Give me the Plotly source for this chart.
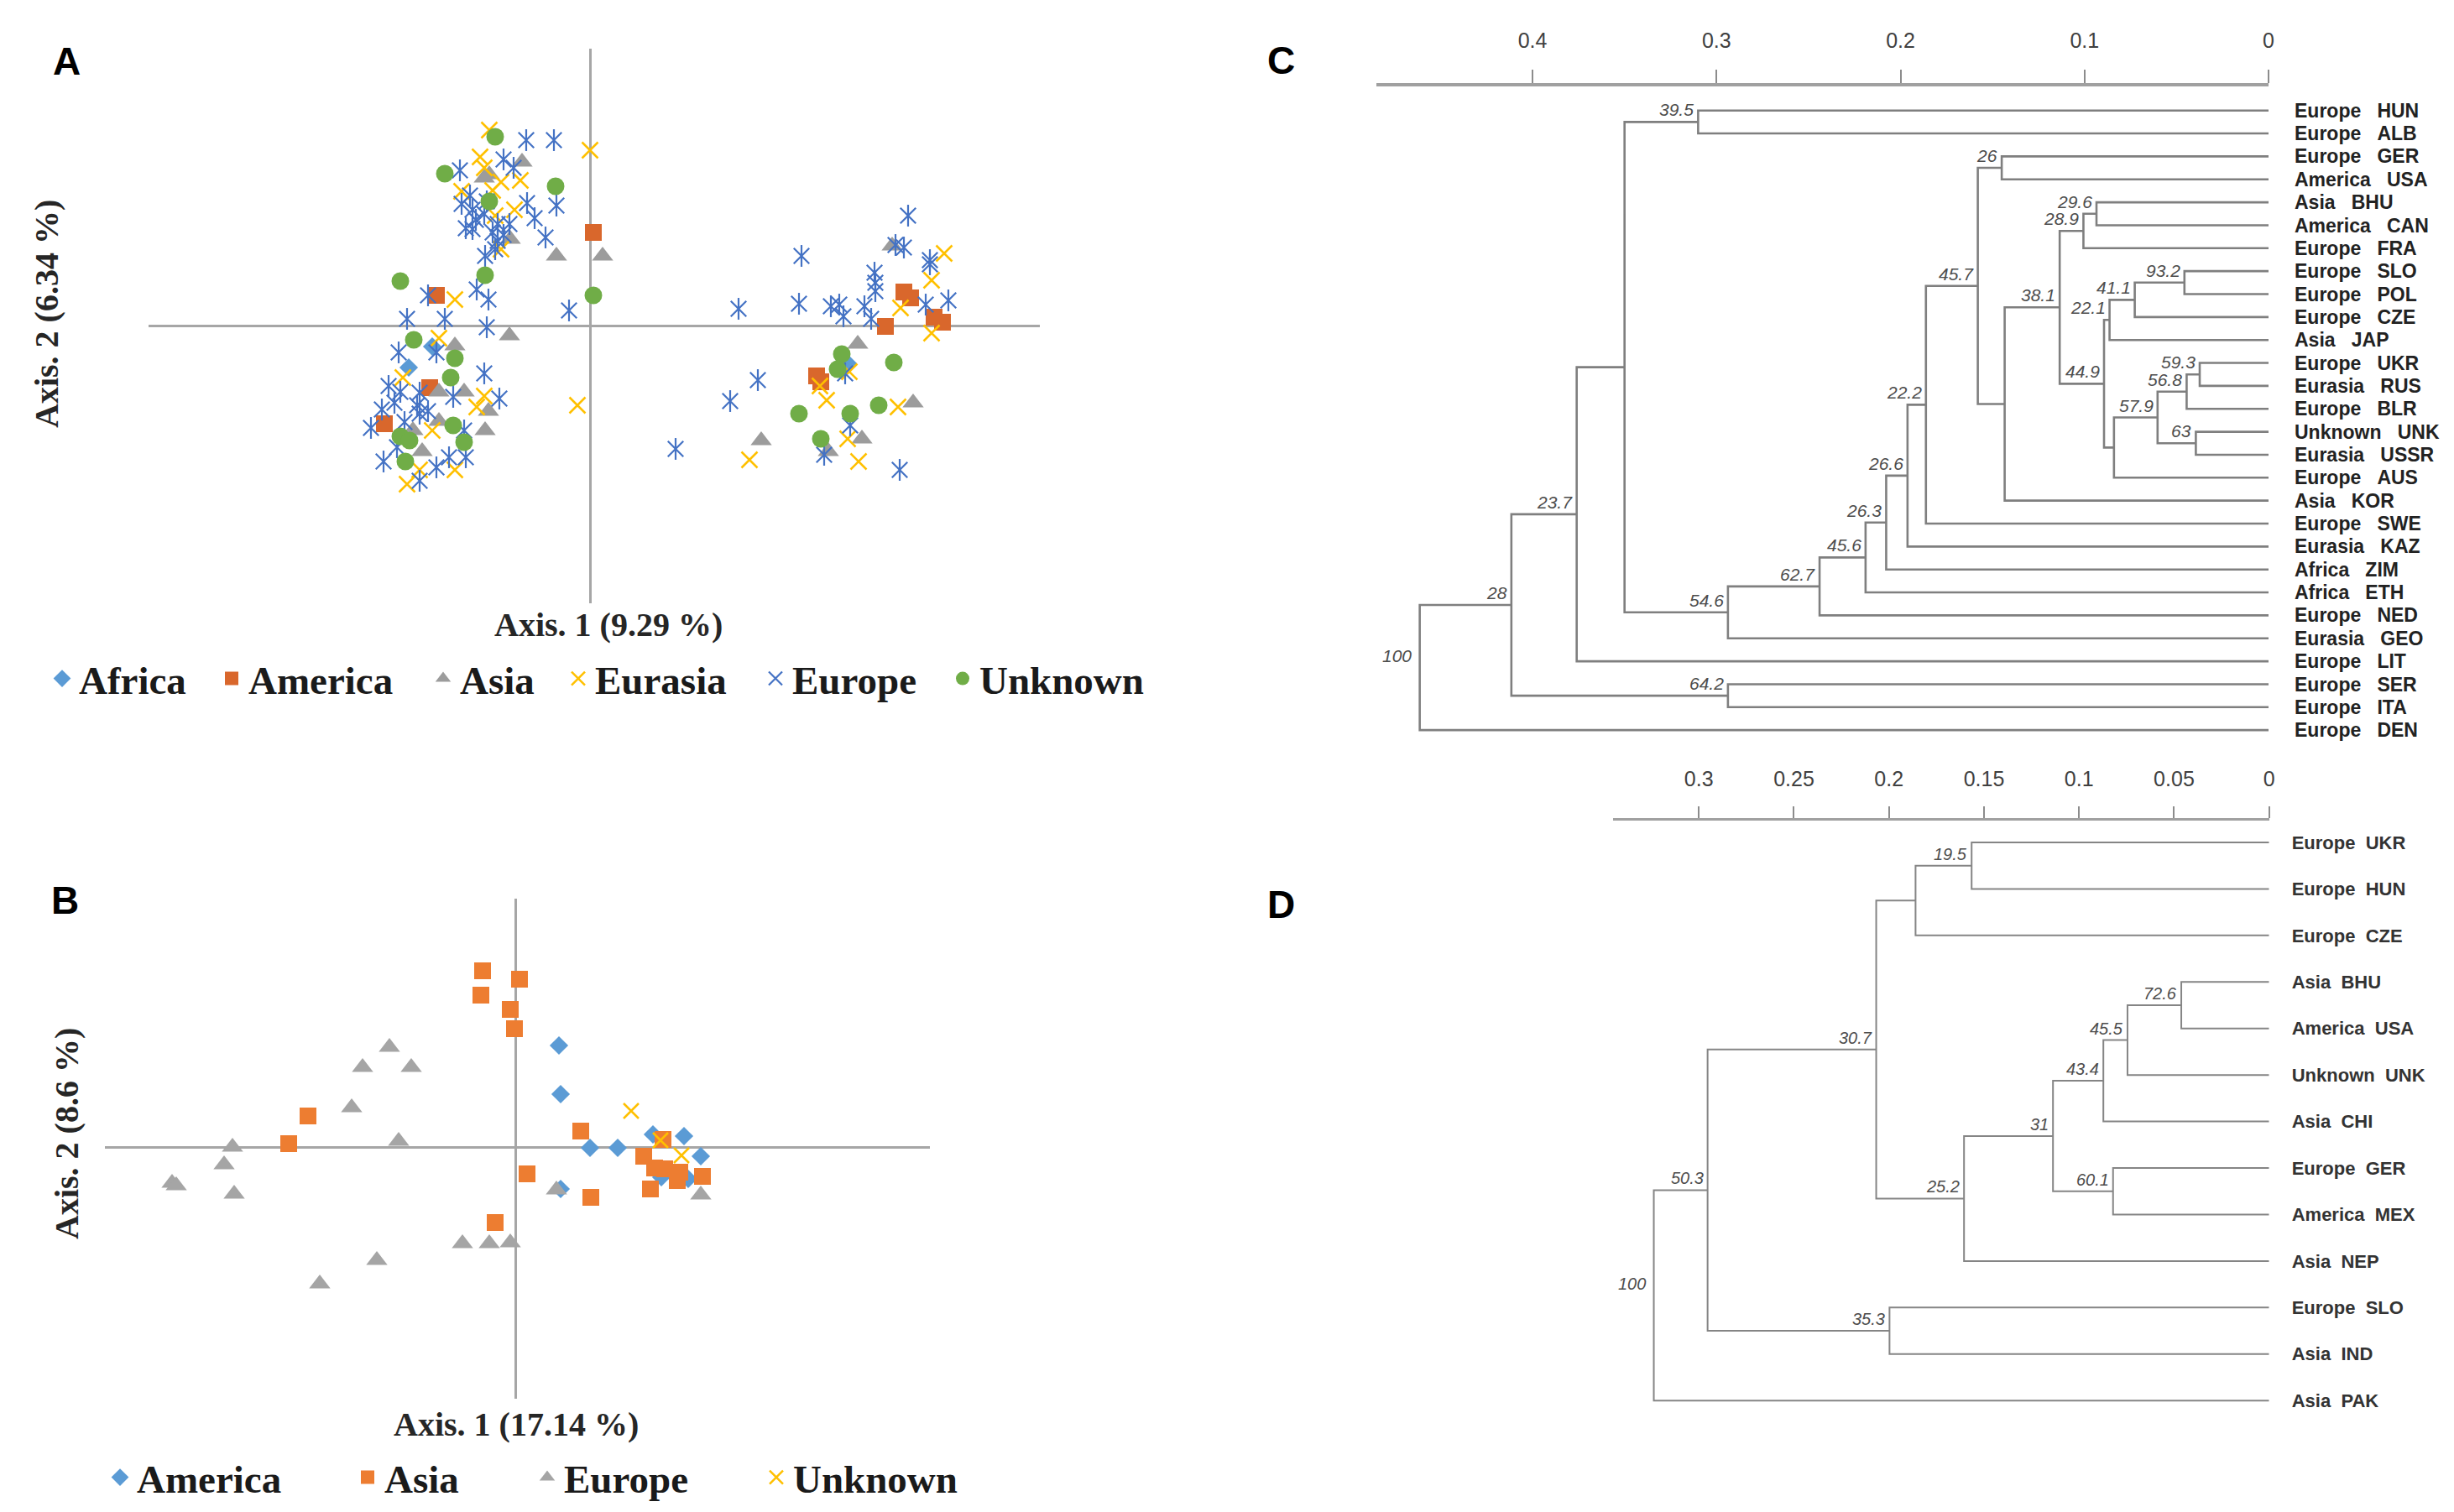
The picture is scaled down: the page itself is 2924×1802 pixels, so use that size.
import plotly.graph_objects as go

# ---------------- Panel A (PCoA, all accessions) ----------------
A_africa_x = [-0.188, -0.216, 0.307]
A_africa_y = [-0.025, -0.050, -0.045]

A_america_x = [0.004, -0.183, -0.191, -0.245, 0.374, 0.382, 0.352, 0.410, 0.420, 0.270, 0.275]
A_america_y = [0.111, 0.036, -0.074, -0.117, 0.040, 0.033, -0.001, 0.010, 0.004, -0.060, -0.067]

A_asia_x = [-0.081, -0.126, -0.120, -0.095, -0.040, 0.015, -0.096, -0.161, -0.180, -0.150, -0.121,
            -0.180, -0.125, -0.211, -0.200, 0.360, 0.319, 0.385, 0.204, 0.324, 0.284]
A_asia_y = [0.195, 0.176, 0.180, 0.103, 0.083, 0.083, -0.012, -0.024, -0.079, -0.079, -0.102,
            -0.114, -0.125, -0.125, -0.150, 0.095, -0.022, -0.092, -0.137, -0.135, -0.150]

A_eurasia_x = [-0.120, 0.000, -0.131, -0.126, -0.106, -0.083, -0.153, -0.116, -0.090, -0.113,
               -0.106, -0.161, -0.180, -0.126, -0.135, -0.015, -0.188, -0.161, -0.218, -0.223,
               -0.203, 0.422, 0.407, 0.370, 0.407, 0.274, 0.282, 0.309, 0.367, 0.307, 0.190, 0.320]
A_eurasia_y = [0.233, 0.209, 0.201, 0.188, 0.171, 0.173, 0.160, 0.161, 0.138, 0.131,
               0.091, 0.031, -0.015, -0.084, -0.097, -0.095, -0.125, -0.172, -0.189, -0.062,
               -0.172, 0.086, 0.054, 0.021, -0.009, -0.072, -0.089, -0.055, -0.097, -0.135, -0.160, -0.162]

A_europe_x = [-0.076, -0.043, -0.103, -0.155, -0.091, -0.143, -0.153, -0.075, -0.040, -0.136,
              -0.126, -0.148, -0.110, -0.096, -0.066, -0.053, -0.110, -0.125, -0.123, -0.140,
              -0.116, -0.103, -0.140, -0.113,
              -0.193, -0.135, -0.121, -0.025, -0.218, -0.173, -0.123, -0.228, -0.183, -0.126,
              -0.240, -0.226, -0.163, -0.108, -0.248, -0.206, -0.193, -0.261, -0.221, -0.150,
              -0.246, -0.183, -0.168, -0.148, -0.203, -0.230, -0.203, -0.233, -0.203,
              0.379, 0.364, 0.374, 0.252, 0.405, 0.405, 0.339, 0.340, 0.340, 0.177,
              0.249, 0.287, 0.297, 0.327, 0.302, 0.335, 0.400, 0.427, 0.200, 0.167,
              0.102, 0.304, 0.279, 0.369, 0.310]
A_europe_y = [0.221, 0.221, 0.198, 0.185, 0.188, 0.155, 0.145, 0.146, 0.143, 0.126,
              0.133, 0.116, 0.121, 0.121, 0.128, 0.105, 0.101, 0.083, 0.148, 0.138,
              0.111, 0.108, 0.115, 0.091,
              0.036, 0.043, 0.031, 0.018, 0.008, 0.008, -0.002, -0.032, -0.032, -0.057,
              -0.072, -0.079, -0.085, -0.087, -0.100, -0.095, -0.102, -0.122, -0.115, -0.125,
              -0.162, -0.169, -0.157, -0.157, -0.185, -0.145, -0.105, -0.092, -0.080,
              0.131, 0.096, 0.093, 0.083, 0.078, 0.073, 0.063, 0.051, 0.041, 0.020,
              0.026, 0.023, 0.025, 0.023, 0.011, 0.008, 0.025, 0.030, -0.065, -0.090,
              -0.147, -0.057, -0.154, -0.172, -0.119]

A_unknown_x = [-0.113, -0.173, -0.041, -0.120, -0.226, -0.125, 0.004, -0.210, -0.161, -0.166, -0.163,
               -0.226, -0.215, -0.150, -0.220, 0.300, 0.295, 0.362, 0.249, 0.310, 0.344, 0.275]
A_unknown_y = [0.225, 0.181, 0.166, 0.148, 0.053, 0.060, 0.036, -0.017, -0.039, -0.062, -0.119,
               -0.132, -0.137, -0.139, -0.162, -0.034, -0.052, -0.044, -0.105, -0.105, -0.095, -0.135]

# ---------------- Panel B (PCoA, subset) ----------------
B_america_x = [0.052, 0.054, 0.089, 0.122, 0.164, 0.201, 0.221, 0.174, 0.206, 0.054]
B_america_y = [0.121, 0.063, -0.001, -0.001, 0.015, 0.013, -0.011, -0.036, -0.038, -0.050]

B_asia_x = [-0.039, -0.041, 0.005, -0.006, -0.001, -0.247, -0.270, -0.024, 0.078, 0.014,
            0.090, 0.176, 0.153, 0.166, 0.178, 0.196, 0.193, 0.223, 0.161]
B_asia_y = [0.210, 0.181, 0.200, 0.164, 0.141, 0.037, 0.004, -0.090, 0.019, -0.032,
            -0.060, 0.009, -0.011, -0.025, -0.026, -0.030, -0.040, -0.035, -0.050]

B_europe_x = [-0.150, -0.182, -0.124, -0.195, -0.139, -0.337, -0.347, -0.409, -0.404, -0.335,
              -0.063, -0.031, -0.165, -0.233, -0.006, 0.049, 0.221]
B_europe_y = [0.119, 0.095, 0.095, 0.047, 0.007, 0.000, -0.021, -0.043, -0.046, -0.056,
              -0.115, -0.115, -0.135, -0.163, -0.114, -0.051, -0.057]

B_unknown_x = [0.138, 0.173, 0.198]
B_unknown_y = [0.043, 0.008, -0.010]

# ---------------- Panel C (dendrogram) ----------------
C_regions = ["Europe", "Europe", "Europe", "America", "Asia", "America", "Europe", "Europe", "Europe",
             "Europe", "Asia", "Europe", "Eurasia", "Europe", "Unknown", "Eurasia", "Europe", "Asia",
             "Europe", "Eurasia", "Africa", "Africa", "Europe", "Eurasia", "Europe", "Europe", "Europe", "Europe"]
C_codes = ["HUN", "ALB", "GER", "USA", "BHU", "CAN", "FRA", "SLO", "POL", "CZE", "JAP", "UKR", "RUS", "BLR",
           "UNK", "USSR", "AUS", "KOR", "SWE", "KAZ", "ZIM", "ETH", "NED", "GEO", "LIT", "SER", "ITA", "DEN"]
# (child a, child b, height, bootstrap support); ints refer to earlier nodes
C_nodes = [
    ("HUN", "ALB", 0.310, "39.5"),
    ("GER", "USA", 0.145, "26"),
    ("BHU", "CAN", 0.0935, "29.6"),
    (2, "FRA", 0.1006, "28.9"),
    ("SLO", "POL", 0.0457, "93.2"),
    (4, "CZE", 0.0727, "41.1"),
    (5, "JAP", 0.0864, "22.1"),
    ("UKR", "RUS", 0.0374, "59.3"),
    (7, "BLR", 0.0445, "56.8"),
    ("UNK", "USSR", 0.0395, "63"),
    (8, 9, 0.0603, "57.9"),
    (10, "AUS", 0.0840, ""),
    (6, 11, 0.0894, "44.9"),
    (3, 12, 0.1135, "38.1"),
    (13, "KOR", 0.1434, ""),
    (1, 14, 0.1580, "45.7"),
    (15, "SWE", 0.1862, "22.2"),
    (16, "KAZ", 0.1962, "26.6"),
    (17, "ZIM", 0.2078, "26.3"),
    (18, "ETH", 0.2190, "45.6"),
    (19, "NED", 0.2440, "62.7"),
    (20, "GEO", 0.2938, "54.6"),
    (0, 21, 0.3500, ""),
    (22, "LIT", 0.3760, "23.7"),
    ("SER", "ITA", 0.2938, "64.2"),
    (23, 24, 0.4115, "28"),
    (25, "DEN", 0.4613, "100"),
]
C_ticks = [0, 0.1, 0.2, 0.3, 0.4]

# ---------------- Panel D (dendrogram) ----------------
D_regions = ["Europe", "Europe", "Europe", "Asia", "America", "Unknown", "Asia", "Europe", "America",
             "Asia", "Europe", "Asia", "Asia"]
D_codes = ["UKR", "HUN", "CZE", "BHU", "USA", "UNK", "CHI", "GER", "MEX", "NEP", "SLO", "IND", "PAK"]
D_nodes = [
    ("UKR", "HUN", 0.1565, "19.5"),
    (0, "CZE", 0.1860, ""),
    ("BHU", "USA", 0.0462, "72.6"),
    (2, "UNK", 0.0745, "45.5"),
    (3, "CHI", 0.0872, "43.4"),
    ("GER", "MEX", 0.0821, "60.1"),
    (4, 5, 0.1137, "31"),
    (6, "NEP", 0.1605, "25.2"),
    (1, 7, 0.2067, "30.7"),
    ("SLO", "IND", 0.1997, "35.3"),
    (8, 9, 0.2954, "50.3"),
    (10, "PAK", 0.3237, "100"),
]
D_ticks = [0, 0.05, 0.1, 0.15, 0.2, 0.25, 0.3]

W, H = 2924, 1802
SERIF = "Liberation Serif, Times New Roman, serif"
SANS = "Liberation Sans, Arial, sans-serif"

fig = go.Figure()


def add_pts(x, y, name, symbol, color, size, xa, ya, leg, lw=0, group=None, showlegend=True):
    open_sym = symbol.endswith("open")
    marker = dict(symbol=symbol, size=size, color=color)
    if open_sym:
        marker["line"] = dict(color=color, width=lw)
    else:
        marker["line"] = dict(width=0)
    fig.add_trace(go.Scatter(x=x, y=y, mode="markers", name=name, marker=marker,
                             xaxis=xa, yaxis=ya, legend=leg, showlegend=showlegend,
                             legendgroup=group or name, hoverinfo="skip"))


# Panel A traces
add_pts(A_africa_x, A_africa_y, "Africa", "diamond", "#5B9BD5", 17, "x", "y", "legend")
add_pts(A_america_x, A_america_y, "America", "square", "#D9672C", 20, "x", "y", "legend2")
add_pts(A_asia_x, A_asia_y, "Asia", "triangle-up", "#9C9C9C", 22, "x", "y", "legend3")
add_pts(A_eurasia_x, A_eurasia_y, "Eurasia", "x-thin-open", "#FFC000", 19, "x", "y", "legend4", lw=2.5)
add_pts(A_europe_x, A_europe_y, "Europe", "x-thin-open", "#4472C4", 18.5, "x", "y", "legend5", lw=2.2, group="eu")
add_pts(A_europe_x, A_europe_y, "Europe", "line-ns-open", "#4472C4", 18.5, "x", "y", "legend5", lw=2.2,
        group="eu", showlegend=False)
add_pts(A_unknown_x, A_unknown_y, "Unknown", "circle", "#70AD47", 21, "x", "y", "legend6")

# Panel B traces
add_pts(B_america_x, B_america_y, "America", "diamond", "#5B9BD5", 17, "x2", "y2", "legend7")
add_pts(B_asia_x, B_asia_y, "Asia", "square", "#ED7D31", 20, "x2", "y2", "legend8")
add_pts(B_europe_x, B_europe_y, "Europe", "triangle-up", "#A5A5A5", 22, "x2", "y2", "legend9")
add_pts(B_unknown_x, B_unknown_y, "Unknown", "x-thin-open", "#FFC000", 18, "x2", "y2", "legend10", lw=2.5)


def dendro(codes, nodes):
    ypos = {c: i + 1 for i, c in enumerate(codes)}
    hpos = {c: 0.0 for c in codes}
    xs, ys = [], []
    for k, (a, b, h, s) in enumerate(nodes):
        ya, yb = ypos[a], ypos[b]
        xs += [hpos[a], h, h, hpos[b], None]
        ys += [ya, ya, yb, yb, None]
        ypos[k] = (ya + yb) / 2
        hpos[k] = h
    return xs, ys, ypos


annotations = []

for codes, regions, nodes, xa, ya, lc, lw, sup_size in [
        (C_codes, C_regions, C_nodes, "x3", "y3", "#7F7F7F", 2.6, 21),
        (D_codes, D_regions, D_nodes, "x4", "y4", "#858585", 2.0, 20)]:
    xs, ys, ypos = dendro(codes, nodes)
    fig.add_trace(go.Scatter(x=xs, y=ys, mode="lines", line=dict(color=lc, width=lw),
                             xaxis=xa, yaxis=ya, showlegend=False, hoverinfo="skip"))
    for k, (a, b, h, s) in enumerate(nodes):
        if not s:
            continue
        if k == len(nodes) - 1:
            annotations.append(dict(x=h, y=ypos[k], xref=xa, yref=ya, text=s, showarrow=False,
                                    xanchor="right", yanchor="middle", xshift=-8, yshift=14,
                                    font=dict(family=SANS, size=sup_size, color="#4D4D4D", style="italic")))
        else:
            annotations.append(dict(x=h, y=ypos[k], xref=xa, yref=ya, text=s, showarrow=False,
                                    xanchor="right", yanchor="bottom", xshift=-3, yshift=1,
                                    font=dict(family=SANS, size=sup_size, color="#4D4D4D", style="italic")))

C_labels = [r + "\u00a0\u00a0\u00a0" + c for r, c in zip(C_regions, C_codes)]
D_labels = [r + "\u00a0\u00a0" + c for r, c in zip(D_regions, D_codes)]

# Panel letters
for txt, px, py in [("A", 79, 73), ("B", 77, 1073), ("C", 1527, 72), ("D", 1526, 1078)]:
    annotations.append(dict(x=px / W, y=1 - py / H, xref="paper", yref="paper", text=txt, showarrow=False,
                            xanchor="center", yanchor="middle",
                            font=dict(family=SANS, size=46, color="#000000", weight="bold")))

# Axis titles for scatter plots
for txt, px, py, ang in [("Axis. 1 (9.29 %)", 725, 744, 0), ("Axis. 2 (6.34 %)", 56, 374, -90),
                         ("Axis. 1 (17.14 %)", 615, 1697, 0), ("Axis. 2 (8.6 %)", 79, 1351, -90)]:
    annotations.append(dict(x=px / W, y=1 - py / H, xref="paper", yref="paper", text=txt, showarrow=False,
                            xanchor="center", yanchor="middle", textangle=ang,
                            font=dict(family=SERIF, size=40, color="#262626", weight="bold")))

scatter_axis = dict(showgrid=False, zeroline=True, zerolinecolor="#A6A6A6", zerolinewidth=3,
                    showticklabels=False, ticks="", showline=False, fixedrange=True)

dend_y = dict(showgrid=False, zeroline=False, showline=False, ticks="", side="right",
              fixedrange=True)

legend_base = dict(orientation="h", xanchor="left", yanchor="middle", bgcolor="rgba(0,0,0,0)",
                   borderwidth=0, font=dict(family=SERIF, size=47, color="#1A1A1A", weight="bold"),
                   itemsizing="trace")

legends = {}
A_leg_x = [76, 278, 530, 691, 926, 1149]
B_leg_x = [145, 440, 654, 927]
names = ["legend", "legend2", "legend3", "legend4", "legend5", "legend6",
         "legend7", "legend8", "legend9", "legend10"]
for i, mx in enumerate(A_leg_x + B_leg_x):
    yy = 809 if i < 6 else 1761
    d = dict(legend_base)
    d["x"] = (mx - 22) / W
    d["y"] = 1 - yy / H
    legends[names[i]] = d

fig.update_layout(
    template="none",
    width=W, height=H,
    margin=dict(l=0, r=0, t=0, b=0),
    paper_bgcolor="white", plot_bgcolor="white",
    showlegend=True,
    xaxis=dict(domain=[177 / W, 1239 / W], range=[-0.526, 0.536], anchor="y", **scatter_axis),
    yaxis=dict(domain=[1 - 719 / H, 1 - 58 / H], range=[-0.331, 0.330], anchor="x", **scatter_axis),
    xaxis2=dict(domain=[125 / W, 1108 / W], range=[-0.489, 0.494], anchor="y2", **scatter_axis),
    yaxis2=dict(domain=[1 - 1667 / H, 1 - 1071 / H], range=[-0.300, 0.296], anchor="x2", **scatter_axis),
    xaxis3=dict(domain=[1639.7 / W, 2703 / W], range=[0.485, 0], anchor="y3", side="top",
                showgrid=False, zeroline=False, showline=True, linecolor="#A0A0A0", linewidth=4,
                ticks="outside", ticklen=16, tickwidth=2, tickcolor="#8C8C8C",
                tickvals=C_ticks, ticktext=[str(t) for t in C_ticks], ticklabelstandoff=16,
                tickfont=dict(family=SANS, size=25, color="#404040"), fixedrange=True),
    yaxis3=dict(domain=[1 - 890 / H, 1 - 103 / H], range=[28.726, -0.049], anchor="x3",
                tickvals=list(range(1, len(C_codes) + 1)), ticktext=C_labels, ticklabelstandoff=30,
                tickfont=dict(family=SANS, size=23, color="#222222", weight="bold"), **dend_y),
    xaxis4=dict(domain=[1922.3 / W, 2703.7 / W], range=[0.345, 0], anchor="y4", side="top",
                showgrid=False, zeroline=False, showline=True, linecolor="#A0A0A0", linewidth=3,
                ticks="outside", ticklen=14, tickwidth=2, tickcolor="#8C8C8C",
                tickvals=D_ticks, ticktext=[str(t) for t in D_ticks], ticklabelstandoff=14,
                tickfont=dict(family=SANS, size=25, color="#404040"), fixedrange=True),
    yaxis4=dict(domain=[1 - 1700 / H, 1 - 978 / H], range=[13.556, 0.531], anchor="x4",
                tickvals=list(range(1, len(D_codes) + 1)), ticktext=D_labels, ticklabelstandoff=26,
                tickfont=dict(family=SANS, size=22, color="#333333", weight="bold"), **dend_y),
    annotations=annotations,
    **legends,
)

fig.write_html("out.html", config={"displayModeBar": False},
               post_script="document.body.style.margin='0px';document.body.style.padding='0px';")
